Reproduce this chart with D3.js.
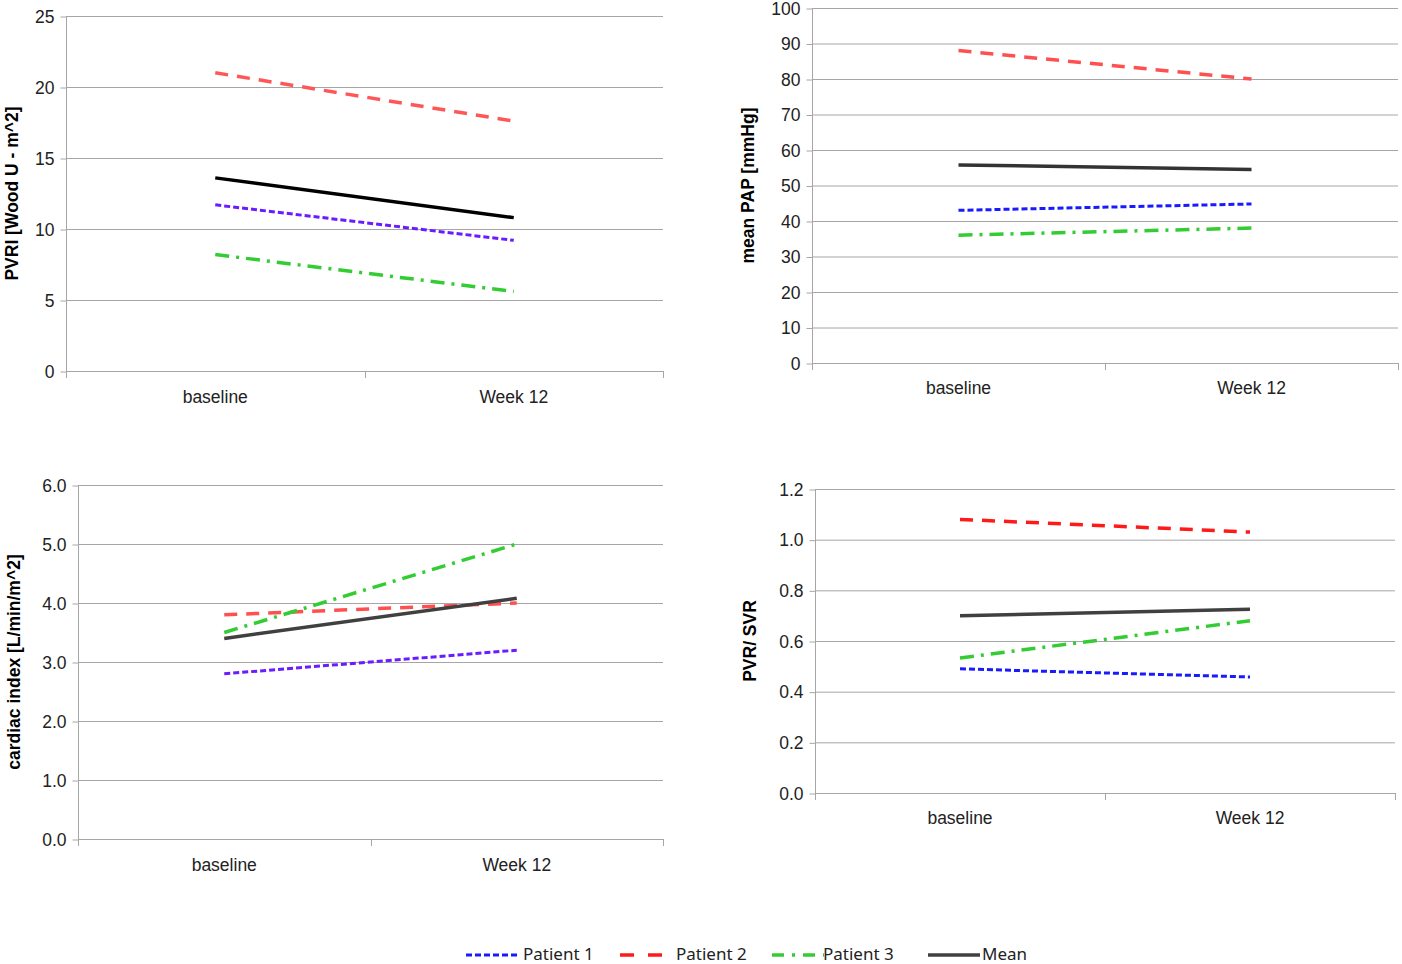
<!DOCTYPE html>
<html>
<head>
<meta charset="utf-8">
<script src="https://cdn.jsdelivr.net/npm/d3@7"></script>
<style>
body{margin:0;background:#fff;}
svg{font-family:"Liberation Sans Narrow","Noto Sans",sans-serif;}
.tick text{font-size:17.5px;fill:#222;}
</style>
</head>
<body>
<div id="main_div"></div>
<script>
let size=[1402,964];
let categories=["baseline","Week 12"];
let seriesNames=["Patient 1","Patient 2","Patient 3","Mean"];

/** values per panel: [patient1, patient2, patient3, mean] */
let pvriValues=[[11.7,9.2],[21.0,17.6],[8.2,5.6],[13.6,10.8]];
let papValues=[[43,44.8],[88,80],[36,38],[55.8,54.5]];
let ciValues=[[2.8,3.2],[3.8,4.0],[3.5,5.0],[3.4,4.08]];
let ratioValues=[[0.49,0.458],[1.08,1.03],[0.533,0.68],[0.70,0.725]];

let pvriTicks=[0,5,10,15,20,25];
let papTicks=[0,10,20,30,40,50,60,70,80,90,100];
let ciTicks=[0,1,2,3,4,5,6];
let ratioTicks=[0,0.2,0.4,0.6,0.8,1.0,1.2];

let panels=[
    {values:pvriValues,ticks:pvriTicks,fmt:d3.format("d"),label:"PVRI [Wood U - m^2]",
     box:[66,663,16,371],labelX:12,xLabelY:397,
     colors:["#6a1bff","#ff5757","#33cc33","#000000"]},
    {values:papValues,ticks:papTicks,fmt:d3.format("d"),label:"mean PAP [mmHg]",
     box:[812,1398,8,363],labelX:748,xLabelY:388,
     colors:["#1a1aff","#ff5050","#33cc33","#333333"]},
    {values:ciValues,ticks:ciTicks,fmt:d3.format(".1f"),label:"cardiac index [L/min/m^2]",
     box:[78,663,485,839],labelX:14,xLabelY:865,
     colors:["#6a1bff","#ff5050","#33cc33","#404040"]},
    {values:ratioValues,ticks:ratioTicks,fmt:d3.format(".1f"),label:"PVR/ SVR",
     box:[815,1395,489,793],labelX:750,xLabelY:818,
     colors:["#1a1aff","#ff1a1a","#33cc33","#404040"]}
];

let dashes=["6,3","13,9","14,7,3,7",null];
let widths=[3,3.5,3.5,3.5];

let svg=d3.select("#main_div")
    .append("svg")
    .attr("width",size[0])
    .attr("height",size[1]);

panels.forEach(function(p){drawPanel(p);});
drawLegend();

function drawPanel(p){
    let x0=p.box[0],x1=p.box[1],y0=p.box[2],y1=p.box[3];
    let xScale=d3.scaleBand().domain(categories).range([x0,x1]).padding(0);
    let yScale=d3.scaleLinear().domain([d3.min(p.ticks),d3.max(p.ticks)]).range([y1,y0]);
    let g=svg.append("g");

    /**gridlines */
    g.selectAll(".grid").data(p.ticks).enter().append("line")
        .attr("x1",x0).attr("x2",x1)
        .attr("y1",function(d){return yScale(d)+0.5})
        .attr("y2",function(d){return yScale(d)+0.5})
        .attr("stroke","#a6a6a6").attr("stroke-width",1);

    /**y axis */
    let yAxis=d3.axisLeft(yScale).tickValues(p.ticks).tickFormat(p.fmt).tickSize(6).tickPadding(6);
    let yg=g.append("g").attr("transform","translate("+(x0+0.5)+",0.5)").call(yAxis);
    yg.select(".domain").attr("stroke","#a6a6a6").attr("d","M0,"+(y0-0.5)+"V"+(y1+0.5));
    yg.selectAll(".tick line").attr("stroke","#a6a6a6");

    /**x axis, labels at category centres, ticks at band edges */
    let xAxis=d3.axisBottom(xScale).tickSize(0).tickPadding(18);
    let xg=g.append("g").attr("transform","translate(0,"+y1+")").call(xAxis);
    xg.select(".domain").remove();
    xg.selectAll(".tick text").attr("dy",null).attr("y",p.xLabelY-y1+6);
    let edges=categories.map(function(c){return xScale(c)}).concat([x1]);
    g.selectAll(".xt").data(edges).enter().append("line")
        .attr("x1",function(d){return Math.round(d)+0.5}).attr("x2",function(d){return Math.round(d)+0.5})
        .attr("y1",y1).attr("y2",y1+7)
        .attr("stroke","#a6a6a6");

    /**axis title */
    g.append("text")
        .attr("transform","translate("+(p.labelX+6)+","+((y0+y1)/2)+") rotate(-90)")
        .attr("text-anchor","middle")
        .style("font-family","'Liberation Sans',Arial,sans-serif")
        .style("font-weight","bold")
        .style("font-size","17.5px")
        .attr("fill","#000")
        .text(p.label);

    /**series lines */
    let line=d3.line()
        .x(function(d,i){return xScale(categories[i])+xScale.bandwidth()/2})
        .y(function(d){return yScale(d)});
    p.values.forEach(function(v,i){
        g.append("path")
            .attr("d",line(v))
            .attr("fill","none")
            .attr("stroke",p.colors[i])
            .attr("stroke-width",widths[i])
            .attr("stroke-dasharray",dashes[i]);
    });
}

function drawLegend(){
    let legendColors=["#1a1aff","#ff1a1a","#33cc33","#404040"];
    let legendX=[466,620,772,928];
    let textX=[523,676,823,982];
    let legendDash=["6,3","14,14","12,8,3,8",null];
    let lg=svg.append("g").attr("transform","translate(0,955)");
    seriesNames.forEach(function(name,i){
        lg.append("line")
            .attr("x1",legendX[i]).attr("x2",legendX[i]+52)
            .attr("y1",0).attr("y2",0)
            .attr("stroke",legendColors[i])
            .attr("stroke-width",widths[i])
            .attr("stroke-dasharray",legendDash[i]);
        lg.append("text")
            .attr("x",textX[i])
            .attr("y",5)
            .style("font-size","17px")
            .attr("fill","#222")
            .text(name);
    });
}
</script>
</body>
</html>
